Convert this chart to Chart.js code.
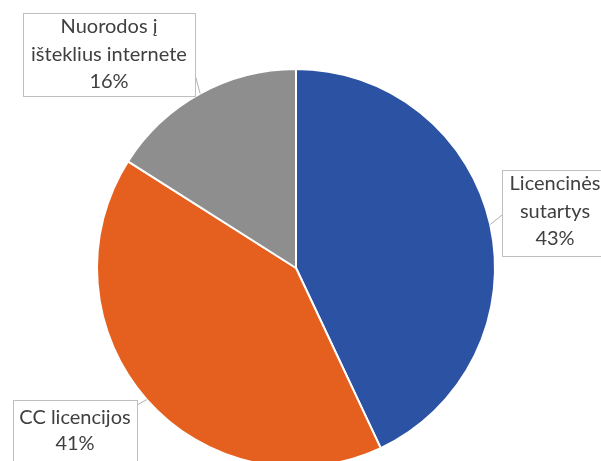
<!DOCTYPE html>
<html>
<head>
<meta charset="utf-8">
<script src="https://cdn.jsdelivr.net/npm/chart.js@4.4.0/dist/chart.umd.min.js"></script>
<style>
html,body{margin:0;padding:0;background:#fff;overflow:hidden;width:601px;height:461px;}
#wrap{position:absolute;left:0;top:0;width:601px;height:480px;}
</style>
</head>
<body>
<div id="wrap"><canvas id="c" width="601" height="480"></canvas></div>
<script>
const categories = ["Licencinės sutartys", "CC licencijos", "Nuorodos į išteklius internete"];
const labelLines = [["Licencinės", "sutartys"], ["CC licencijos"], ["Nuorodos į", "išteklius internete"]];
const values = [43, 41, 16];
const colors = ["#2C52A4", "#E5601F", "#8E8E8E"];
// label box placement [left, top, width, height]
const boxes = [[502, 170, 110, 86], [13, 400, 124, 70], [23, 13, 172, 83]];

const calloutPlugin = {
  id: 'callouts',
  afterDraw(chart) {
    const ctx = chart.ctx;
    const meta = chart.getDatasetMeta(0);
    ctx.save();
    meta.data.forEach((arc, i) => {
      const p = arc.getProps(['x','y','startAngle','endAngle','outerRadius'], true);
      const mid = (p.startAngle + p.endAngle) / 2;
      const ax = p.x + Math.cos(mid) * p.outerRadius;
      const ay = p.y + Math.sin(mid) * p.outerRadius;
      const [bx, by, bw, bh] = boxes[i];
      let sx, sy;
      if (i === 0) { sx = bx; sy = by + 45; }
      if (i === 1) { sx = bx + bw; sy = by + 5; }
      if (i === 2) { sx = bx + bw - 2; sy = by + bh - 29; }
      ctx.strokeStyle = '#B0B0B0';
      ctx.lineWidth = 1;
      ctx.beginPath();
      ctx.moveTo(sx, sy);
      ctx.lineTo(ax, ay);
      ctx.stroke();
      ctx.fillStyle = '#ffffff';
      ctx.fillRect(bx, by, bw, bh);
      ctx.strokeStyle = '#BFBFBF';
      ctx.strokeRect(bx + 0.5, by + 0.5, bw, bh);
      const lines = labelLines[i].concat([values[i] + '%']);
      ctx.fillStyle = '#404040';
      ctx.font = '20px Lato';
      ctx.textAlign = 'center';
      ctx.textBaseline = 'middle';
      const cx = i === 0 ? 555 : bx + bw / 2;
      const lh = i === 1 ? 25.5 : 27.5;
      const startY = i === 1 ? by + 18 : by + 14;
      lines.forEach((t, k) => ctx.fillText(t, cx, startY + k * lh));
    });
    ctx.restore();
  }
};

new Chart(document.getElementById('c'), {
  type: 'pie',
  data: {
    labels: categories,
    datasets: [{
      data: values,
      backgroundColor: colors,
      borderColor: '#ffffff',
      borderWidth: 2
    }]
  },
  options: {
    responsive: false,
    animation: false,
    layout: { padding: { left: 96, right: 105, top: 68, bottom: 12 } },
    plugins: { legend: { display: false }, tooltip: { enabled: false } }
  },
  plugins: [calloutPlugin]
});
</script>
</body>
</html>
